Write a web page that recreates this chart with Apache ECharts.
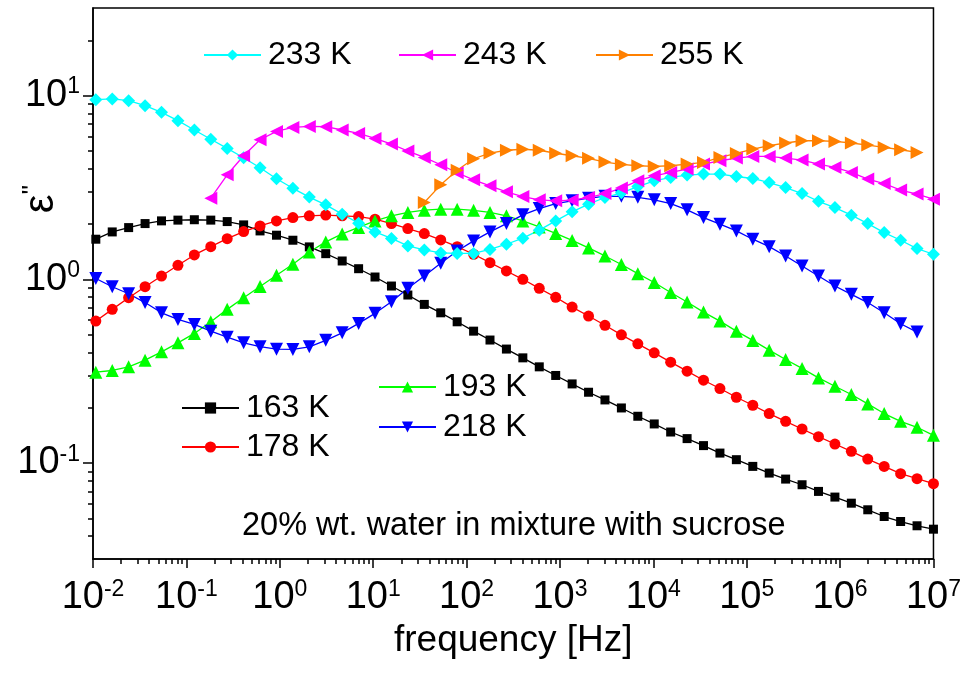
<!DOCTYPE html>
<html>
<head>
<meta charset="utf-8">
<script src="https://cdn.jsdelivr.net/npm/echarts@6/dist/echarts.min.js"></script>
<style>
  html, body { margin: 0; padding: 0; background: #fff; }
  #chart { width: 964px; height: 673px; }
</style>
</head>
<body>
<div id="chart"></div>
<script>
// Measurement frequencies (Hz), shared by all temperatures
const freqHz = [0.01072, 0.01607, 0.02408, 0.03611, 0.05414, 0.08118, 0.1217, 0.1825, 0.2736, 0.4102,
  0.6149, 0.9220, 1.382, 2.072, 3.107, 4.659, 6.985, 10.47, 15.70, 23.53,
  35.29, 52.91, 79.34, 119.0, 178.3, 267.3, 400.8, 600.9, 901.0, 1351,
  2025, 3036, 4552, 6825, 10231, 15340, 23000, 34480, 51700, 77510,
  116200, 174200, 261200, 391600, 587100, 880300, 1320000, 1979000, 2967000, 4448000,
  6668000, 9997000];

// Dielectric loss eps'' per temperature
const eps163 = [1.653, 1.811, 1.912, 2.011, 2.080, 2.100, 2.110, 2.100, 2.062, 1.978,
  1.834, 1.738, 1.632, 1.501, 1.379, 1.258, 1.142, 1.029, 0.919, 0.821,
  0.730, 0.657, 0.587, 0.522, 0.467, 0.417, 0.3735, 0.3337, 0.2995, 0.2694,
  0.2427, 0.2204, 0.1993, 0.1796, 0.1631, 0.1474, 0.1357, 0.1243, 0.1132, 0.1042,
  0.0958, 0.0881, 0.0817, 0.0761, 0.0700, 0.0652, 0.0604, 0.0556, 0.0511, 0.0480,
  0.0455, 0.0436];
const eps178 = [0.5923, 0.686, 0.794, 0.911, 1.042, 1.192, 1.357, 1.506, 1.665, 1.818,
  1.953, 2.080, 2.168, 2.215, 2.237, 2.215, 2.195, 2.125, 2.011, 1.888,
  1.774, 1.638, 1.506, 1.369, 1.232, 1.110, 1.000, 0.893, 0.798, 0.706,
  0.631, 0.5619, 0.4985, 0.4453, 0.3977, 0.3538, 0.3160, 0.2822, 0.2543, 0.2279,
  0.2062, 0.1858, 0.1686, 0.1531, 0.1391, 0.1268, 0.1157, 0.1050, 0.0958, 0.0874,
  0.0821, 0.0771];
const eps193 = [0.3121, 0.3188, 0.3337, 0.3628, 0.4027, 0.4509, 0.5074, 0.5869, 0.686, 0.794,
  0.913, 1.051, 1.207, 1.409, 1.598, 1.767, 1.917, 2.080, 2.215, 2.314,
  2.379, 2.409, 2.409, 2.373, 2.314, 2.215, 2.080, 1.929, 1.778, 1.628,
  1.482, 1.340, 1.204, 1.073, 0.9605, 0.847, 0.752, 0.663, 0.5923, 0.522,
  0.4649, 0.4114, 0.3661, 0.3271, 0.2905, 0.2617, 0.2358, 0.2096, 0.1858, 0.1686,
  0.1564, 0.1414];
const eps218 = [1.010, 0.911, 0.8345, 0.747, 0.657, 0.605, 0.568, 0.522, 0.4843, 0.4509,
  0.4299, 0.4166, 0.4151, 0.4288, 0.4655, 0.5112, 0.5754, 0.6526, 0.7545, 0.893,
  1.042, 1.223, 1.427, 1.618, 1.811, 2.011, 2.243, 2.428, 2.585, 2.674,
  2.766, 2.829, 2.829, 2.794, 2.708, 2.585, 2.388, 2.168, 1.995, 1.834,
  1.653, 1.506, 1.340, 1.182, 1.042, 0.919, 0.828, 0.747, 0.657, 0.5725,
  0.5158];
const eps233 = [9.511, 9.594, 9.391, 8.822, 8.108, 7.305, 6.500, 5.790, 5.159, 4.590,
  4.048, 3.526, 3.129, 2.802, 2.543, 2.263, 2.021, 1.811, 1.670, 1.519,
  1.445, 1.391, 1.383, 1.383, 1.454, 1.552, 1.674, 1.851, 2.080, 2.329,
  2.566, 2.788, 2.957, 3.200, 3.438, 3.584, 3.694, 3.740, 3.740, 3.628,
  3.539, 3.365, 3.160, 2.931, 2.657, 2.458, 2.235, 2.011, 1.796, 1.632,
  1.469, 1.369];
// 243 K starts at the 8th frequency, 255 K at the 21st
const eps243 = [2.766, 3.707, 4.707, 5.754, 6.387, 6.716, 6.800, 6.774, 6.500, 6.228,
  5.848, 5.452, 4.993, 4.607, 4.203, 3.802, 3.482, 3.228, 2.995, 2.822,
  2.708, 2.674, 2.698, 2.788, 2.931, 3.137, 3.438, 3.661, 3.817, 3.982,
  4.241, 4.420, 4.573, 4.666, 4.666, 4.573, 4.459, 4.241, 4.063, 3.817,
  3.512, 3.323, 3.059, 2.909, 2.732];
const eps255 = [2.617, 3.269, 3.923, 4.532, 4.868, 5.042, 5.106, 5.042, 4.856, 4.707,
  4.560, 4.348, 4.220, 4.151, 4.115, 4.151, 4.241, 4.326, 4.607, 4.844,
  5.119, 5.336, 5.521, 5.681, 5.681, 5.632, 5.521, 5.383, 5.224, 5.074,
  4.905];

// Axis decades (exponents of ten) that get labels
const xTickExponents = [-2, -1, 0, 1, 2, 3, 4, 5, 6, 7];
const yTickExponents = [-1, 0, 1];

const FONT = '"Liberation Sans", Arial, Helvetica, sans-serif';

const xMajor = xTickExponents.map(e => Math.pow(10, e));
const yMajor = yTickExponents.map(e => Math.pow(10, e));

// Minor tick positions: 2..9 times each decade inside the range
function minorTicks(lo, hi) {
  const out = [];
  for (let e = -3; e <= 8; e++) {
    for (let m = 2; m <= 9; m++) {
      const v = m * Math.pow(10, e);
      if (v > lo * 1.0001 && v < hi * 0.9999) out.push(v);
    }
  }
  return out;
}
const X_MIN = 0.01, X_MAX = 1e7, Y_MIN = 0.03, Y_MAX = 30;
const xMinor = minorTicks(X_MIN, X_MAX);
const yMinor = minorTicks(Y_MIN, Y_MAX);

function powLabel(v) {
  const e = Math.round(Math.log10(v));
  return '{b|10}{s|' + e + '}';
}
const powRich = {
  b: { fontSize: 38, lineHeight: 40, fontFamily: FONT, color: '#000' },
  s: { fontSize: 23, lineHeight: 23, fontFamily: FONT, color: '#000', verticalAlign: 'top' }
};

const axisBlack = { color: '#000', width: 1.5 };

function pairs(startIndex, values) {
  return values.map((v, k) => [freqHz[startIndex + k], v]);
}

const seriesDefs = [
  { name: '163 K', color: '#000000', symbol: 'rect', size: 9, rotate: 0, start: 0, values: eps163 },
  { name: '178 K', color: '#FF0000', symbol: 'circle', size: 11, rotate: 0, start: 0, values: eps178 },
  { name: '193 K', color: '#00FF00', symbol: 'triangle', size: 13, rotate: 0, start: 0, values: eps193 },
  { name: '218 K', color: '#0000FF', symbol: 'triangle', size: 13, rotate: 180, start: 0, values: eps218 },
  { name: '233 K', color: '#00FFFF', symbol: 'diamond', size: 13, rotate: 0, start: 0, values: eps233 },
  { name: '243 K', color: '#FF00FF', symbol: 'triangle', size: 13, rotate: 90, start: 7, values: eps243 },
  { name: '255 K', color: '#FF8000', symbol: 'triangle', size: 13, rotate: -90, start: 20, values: eps255 }
];

const series = seriesDefs.map(d => ({
  name: d.name,
  type: 'line',
  xAxisIndex: 0,
  yAxisIndex: 0,
  data: pairs(d.start, d.values),
  symbol: d.symbol,
  symbolSize: d.size,
  symbolRotate: d.rotate,
  showAllSymbol: true,
  smooth: false,
  clip: true,
  color: d.color,
  lineStyle: { color: d.color, width: 1.3 },
  itemStyle: { color: d.color, borderWidth: 0 },
  emphasis: { disabled: true }
}));

// One legend block per entry, placed inside the plot
const legendSpots = [
  { name: '163 K', left: 181, top: 392 },
  { name: '178 K', left: 181, top: 431 },
  { name: '193 K', left: 378, top: 371 },
  { name: '218 K', left: 378, top: 411 },
  { name: '233 K', left: 203, top: 39 },
  { name: '243 K', left: 398, top: 39 },
  { name: '255 K', left: 595, top: 39 }
];
const legends = legendSpots.map(s => ({
  data: [s.name],
  left: s.left,
  top: s.top,
  orient: 'horizontal',
  padding: 0,
  itemWidth: 57,
  itemHeight: 14,
  selectedMode: false,
  textStyle: { fontSize: 32, lineHeight: 32, fontFamily: FONT, color: '#000', padding: [0, 0, 0, 2] }
}));

const option = {
  animation: false,
  backgroundColor: '#ffffff',
  grid: { left: 93, right: 27, top: 8, bottom: 114, show: true, borderColor: '#000', borderWidth: 1.5, containLabel: false },
  legend: legends,
  xAxis: [
    {
      type: 'log', logBase: 10, min: X_MIN, max: X_MAX,
      axisLine: { show: true, onZero: false, lineStyle: axisBlack },
      axisTick: { show: true, inside: false, length: 9, customValues: xMajor, lineStyle: axisBlack },
      axisLabel: { show: true, customValues: xMajor, margin: 19, formatter: powLabel, rich: powRich },
      splitLine: { show: false },
      minorTick: { show: false },
      name: 'frequency [Hz]', nameLocation: 'middle', nameGap: 37,
      nameTextStyle: { fontSize: 37, fontFamily: FONT, color: '#000' }
    },
    {
      type: 'log', logBase: 10, min: X_MIN, max: X_MAX, position: 'bottom',
      axisLine: { show: false },
      axisTick: { show: true, inside: false, length: 5, customValues: xMinor, lineStyle: axisBlack },
      axisLabel: { show: false },
      splitLine: { show: false }
    }
  ],
  yAxis: [
    {
      type: 'log', logBase: 10, min: Y_MIN, max: Y_MAX,
      axisLine: { show: true, onZero: false, lineStyle: axisBlack },
      axisTick: { show: true, inside: false, length: 10, customValues: yMajor, lineStyle: axisBlack },
      axisLabel: { show: true, customValues: yMajor, margin: 13, formatter: powLabel, rich: powRich, align: 'right' },
      splitLine: { show: false },
      minorTick: { show: false }
    },
    {
      type: 'log', logBase: 10, min: Y_MIN, max: Y_MAX, position: 'left',
      axisLine: { show: false },
      axisTick: { show: true, inside: false, length: 5, customValues: yMinor, lineStyle: axisBlack },
      axisLabel: { show: false },
      splitLine: { show: false }
    }
  ],
  graphic: [
    {
      type: 'text', x: 41, y: 199, rotation: Math.PI / 2,
      style: {
        text: "{e|\u03B5}{p|''}", align: 'center', verticalAlign: 'middle',
        rich: {
          e: { fontSize: 42, fontFamily: FONT, fill: '#000', lineHeight: 42 },
          p: { fontSize: 26, fontFamily: FONT, fill: '#000', lineHeight: 26, verticalAlign: 'top' }
        }
      }
    },
    {
      type: 'text', left: 242, top: 510,
      style: { text: '20% wt. water in mixture with sucrose', fontSize: 32.5, fontFamily: FONT, fill: '#000' }
    }
  ],
  series: series
};

const chart = echarts.init(document.getElementById('chart'), null, { renderer: 'canvas' });
chart.setOption(option);
</script>
</body>
</html>
